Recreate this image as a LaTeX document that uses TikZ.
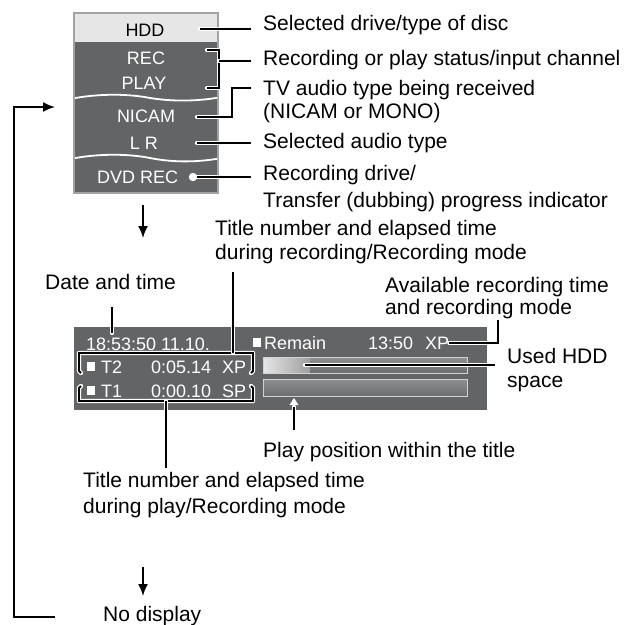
\documentclass[tikz,border=0pt]{standalone}
\usepackage{fontspec}
\setmainfont{Liberation Sans}
\usetikzlibrary{arrows.meta,calc,positioning}
\definecolor{PanelGray}{HTML}{636466}
\definecolor{PanelEdge}{HTML}{A2A2A2}
\definecolor{BandLight}{HTML}{E6E6E6}
\definecolor{BarEdge}{HTML}{D2D2D2}
\definecolor{BarTop}{HTML}{8E8F91}
\definecolor{BarBot}{HTML}{6C6D6F}
\newcommand{\lblfont}{\fontsize{21}{24}\selectfont}
\newcommand{\osdfont}{\fontsize{18}{20}\selectfont}
% black leader with a white halo, as on the OSD panels
\newcommand{\leadline}[1]{%
  \draw[white,line width=4.4pt,line cap=round,line join=round] #1;
  \draw[black,line width=1.8pt,line join=miter] #1;%
}

\begin{document}
\begin{tikzpicture}[x=1pt,y=-1pt,
    osd/.style={font=\osdfont,text=white,inner sep=0pt,anchor=base},
    lbl/.style={font=\lblfont,inner sep=0pt,anchor=base west,align=left},
    lblR/.style={lbl,inner xsep=12pt},
    flow/.style={line width=1.8pt,-{Latex[length=12pt,width=10pt]}}]
  \useasboundingbox (0,0) rectangle (626,624);

  % upper OSD panel
  \path[fill=PanelGray,draw=PanelEdge,line width=2pt] (74,13) rectangle (218,193);
  \path[fill=BandLight] (75,14) rectangle (217,42);
  \begin{scope}
    \clip (75,14) rectangle (217,192);
    \draw[white,line width=1.8pt]
      (70,99) .. controls (100,93) and (130,94) .. (150,98)
      .. controls (175,102) and (200,101) .. (222,97);
    \draw[white,line width=1.8pt]
      (70,159) .. controls (100,153) and (130,154) .. (150,158)
      .. controls (175,163) and (200,162) .. (222,158);
  \end{scope}
  \node[osd,text=black] (hdd) at (145,36) {HDD};
  \node[osd] (rec) at (146,64) {REC};
  \node[osd] (play) at (144,89) {PLAY};
  \node[osd] (nicam) at (146,122) {NICAM};
  \node[osd] (lr) at (144,149) {L R};
  \node[osd,anchor=base west] (dvdrec) at (97,183) {DVD REC};

  % base of a two-line label = baseline of its last line
  \node[lblR] (lbldrive) at (251,30) {Selected drive/type of disc};
  \node[lblR] (lblstatus) at (251,65) {Recording or play status/input channel};
  \node[lblR] (lblaudio) at (251,118) {TV audio type being received\\[-1pt](NICAM or MONO)};
  \node[lblR] (lblseltype) at (251,148) {Selected audio type};
  \node[lblR] (lblrecdrive) at (251,207) {Recording drive/\\[3pt]Transfer (dubbing) progress indicator};

  \coordinate (hddp) at (200,29);
  \coordinate (brtop) at (207,50);
  \coordinate (brbot) at (207,88);
  \coordinate (brmid) at (219,61);
  \coordinate (nicamp) at (197,117);
  \coordinate (lrp) at (197,143);
  \coordinate (dvdp) at (193,177);
  \leadline{(hddp) -- (hddp -| lbldrive.west)}
  \leadline{(brtop) -- (brtop -| brmid) -- (brbot -| brmid) -- (brbot)}
  \leadline{(brmid) -- (brmid -| lblstatus.west)}
  \leadline{(nicamp) -- (232,117) -- (232,88) -- (lblaudio.west |- 0,88)}
  \leadline{(lrp) -- (lrp -| lblseltype.west)}
  \leadline{(dvdp) -- (dvdp -| lblrecdrive.west)}
  \fill[white] (dvdp) circle (4.2);

  % flow arrows
  \coordinate (downa) at (143,205);
  \coordinate (downb) at (143,567);
  \coordinate (loopend) at (55,617);
  \draw[flow] (downa) -- ++(0,33);
  \draw[flow] (downb) -- ++(0,29);
  \draw[flow] (loopend) -- (14,617) -- (14,107) -- (55,107);

  % lower OSD panel
  \path[fill=PanelGray] (74,327) rectangle (487,410);
  \node[osd,anchor=base west] (clock) at (86,350) {18:53:50 11.10.};
  \fill[white] (87,362) rectangle (95,371);
  \fill[white] (87,386) rectangle (95,395);
  \node[osd,anchor=base west] (ttwo) at (101,373) {T2};
  \node[osd,anchor=base west] (ttwotime) at (151,373) {0:05.14};
  \node[osd,anchor=base west] (ttwomode) at (222,373) {XP};
  \node[osd,anchor=base west] (tone) at (101,397) {T1};
  \node[osd,anchor=base west] (tonetime) at (151,397) {0:00.10};
  \node[osd,anchor=base west] (tonemode) at (222,397) {SP};
  \fill[white] (253,338) rectangle (261,347);
  \node[osd,anchor=base west] (remain) at (264,349) {Remain};
  \node[osd,anchor=base west] (remtime) at (368,349) {13:50};
  \node[osd,anchor=base west] (remmode) at (425,349) {XP};

  \path[draw=BarEdge,line width=0.9pt,top color=BarTop,bottom color=BarBot]
    (263,357) rectangle (467,373);
  \path[left color=white!90!black,right color=black!38] (263.5,357.5) rectangle (310,372.5);
  \draw[BarEdge,line width=0.9pt] (263,357) rectangle (467,373);
  \path[draw=BarEdge,line width=0.9pt,top color=BarTop,bottom color=BarBot]
    (263,379) rectangle (467,396);
  \fill[white] (294,398) -- (298.5,405) -- (289.5,405) -- cycle;

  \node[lbl] (lbltitlerec) at (215,259) {Title number and elapsed time\\during recording/Recording mode};
  \node[lbl] (lbldate) at (45,289) {Date and time};
  \node[lbl] (lblavail) at (385,314) {Available recording time\\[-2pt]and recording mode};
  \node[lblR] (lblused) at (495,387) {Used HDD\\space};
  \node[lbl] (lblplay) at (263,457) {Play position within the title};
  \node[lbl] (lbltitleplay) at (83,513) {Title number and elapsed time\\[2pt]during play/Recording mode};
  \node[lbl] (lblnone) at (103,621) {No display};

  \coordinate (datep) at (112,307);
  \coordinate (recbr) at (233,353);
  \coordinate (playbr) at (166,401);
  \coordinate (usedp) at (305,365);
  \coordinate (posp) at (294,407);
  \leadline{(datep) -- (datep |- 0,333)}
  \leadline{(81,373) -- (79,371) -- (79,353) -- (253,353) -- (253,371) -- (251,373)}
  \leadline{(81,386) -- (79,388) -- (79,401) -- (253,401) -- (253,388) -- (251,386)}
  \leadline{(recbr) -- (recbr |- 0,272)}
  \leadline{(playbr) -- (playbr |- 0,468)}
  \leadline{(remmode.east |- 0,343) -- (498,343) -- (498,320)}
  \leadline{(usedp) -- (usedp -| lblused.west)}
  \leadline{(posp) -- (posp |- 0,430)}
\end{tikzpicture}
\end{document}
